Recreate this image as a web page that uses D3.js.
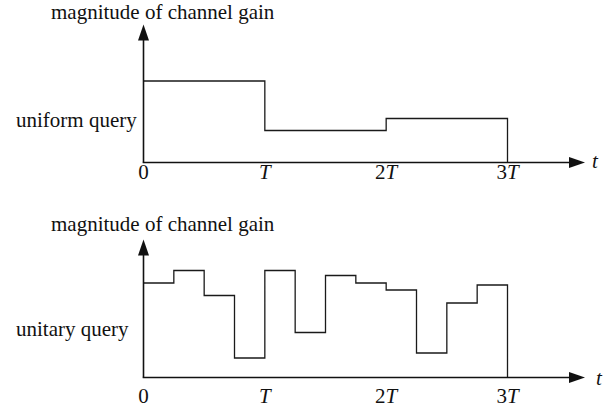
<!DOCTYPE html>
<html>
<head>
<meta charset="utf-8">
<script src="https://cdn.jsdelivr.net/npm/d3@7"></script>
<style>
  html, body { margin: 0; padding: 0; background: #fff; }
  svg { display: block; }
</style>
</head>
<body>
<svg id="chart" width="616" height="412"></svg>
<script>
// ---- data ----
// time slots: quarters of T, from 0 to 3T
const slots = d3.range(12).map(i => i / 4);
// channel gain per quarter slot (arbitrary units)
const uniformGain = [81.5, 81.5, 81.5, 81.5, 32, 32, 32, 32, 44, 44, 44, 44];
const unitaryGain = [94.5, 107, 82, 19.5, 107, 45, 102, 94.5, 87.5, 24.5, 74.5, 92.5];
const tickValues = [0, 1, 2, 3];
const tickLabels = [["0", ""], ["", "T"], ["2", "T"], ["3", "T"]];
const yTitle = "magnitude of channel gain";
const panelLabels = ["uniform query", "unitary query"];

// ---- layout ----
const svg = d3.select("#chart");
const fontSize = 21;
const fontFamily = "Liberation Serif";
const x = d3.scaleLinear().domain([0, 3]).range([143.5, 507.5]);
const xEnd = 585;        // tip of time arrow
const yAxisMax = 138;    // length of gain axis in data units

const panels = [
  { gain: uniformGain, axisY: 162.5, label: panelLabels[0], labelX: 16, labelY: 127,
    titleX: 51, titleY: 19, tickY: 178.5, tX: 592, tY: 168 },
  { gain: unitaryGain, axisY: 377.5, label: panelLabels[1], labelX: 16, labelY: 336,
    titleX: 51, titleY: 231, tickY: 402.5, tX: 596, tY: 385 }
];

function txt(g, xx, yy) {
  return g.append("text").attr("x", xx).attr("y", yy)
    .style("font-family", fontFamily).style("font-size", fontSize + "px").attr("fill", "#111");
}

panels.forEach(p => {
  const y = d3.scaleLinear().domain([0, 100]).range([p.axisY, p.axisY - 100]);
  const g = svg.append("g");

  // step line
  const pts = slots.map((s, i) => [s, p.gain[i]]);
  pts.push([3, p.gain[p.gain.length - 1]]);
  pts.push([3, 0]);
  const line = d3.line().x(d => x(d[0])).y(d => y(d[1])).curve(d3.curveStepAfter);
  g.append("path").attr("d", line(pts))
    .attr("fill", "none").attr("stroke", "#1a1a1a").attr("stroke-width", 1.3);

  // axes
  const x0 = x(0), y0 = y(0), yTop = y(yAxisMax);
  const aL = 16, aW = 5.5;
  g.append("line").attr("x1", x0).attr("y1", y0).attr("x2", x0).attr("y2", yTop + aL - 1)
    .attr("stroke", "#111").attr("stroke-width", 1.6);
  g.append("path").attr("d", `M${x0},${yTop} L${x0 - aW},${yTop + aL} L${x0 + aW},${yTop + aL} Z`)
    .attr("fill", "#111");
  g.append("line").attr("x1", x0 - 0.8).attr("y1", y0).attr("x2", xEnd - aL + 1).attr("y2", y0)
    .attr("stroke", "#111").attr("stroke-width", 1.6);
  g.append("path").attr("d", `M${xEnd},${y0} L${xEnd - aL},${y0 - aW} L${xEnd - aL},${y0 + aW} Z`)
    .attr("fill", "#111");

  // tick labels
  tickValues.forEach((v, i) => {
    const t = txt(g, x(v), p.tickY).attr("text-anchor", "middle");
    if (tickLabels[i][0]) t.append("tspan").text(tickLabels[i][0]);
    if (tickLabels[i][1]) t.append("tspan").style("font-style", "italic").text(tickLabels[i][1]);
  });
  txt(g, p.tX, p.tY).style("font-style", "italic").text("t");

  // titles
  txt(g, p.titleX, p.titleY).text(yTitle);
  txt(g, p.labelX, p.labelY).text(p.label);
});
</script>
</body>
</html>
